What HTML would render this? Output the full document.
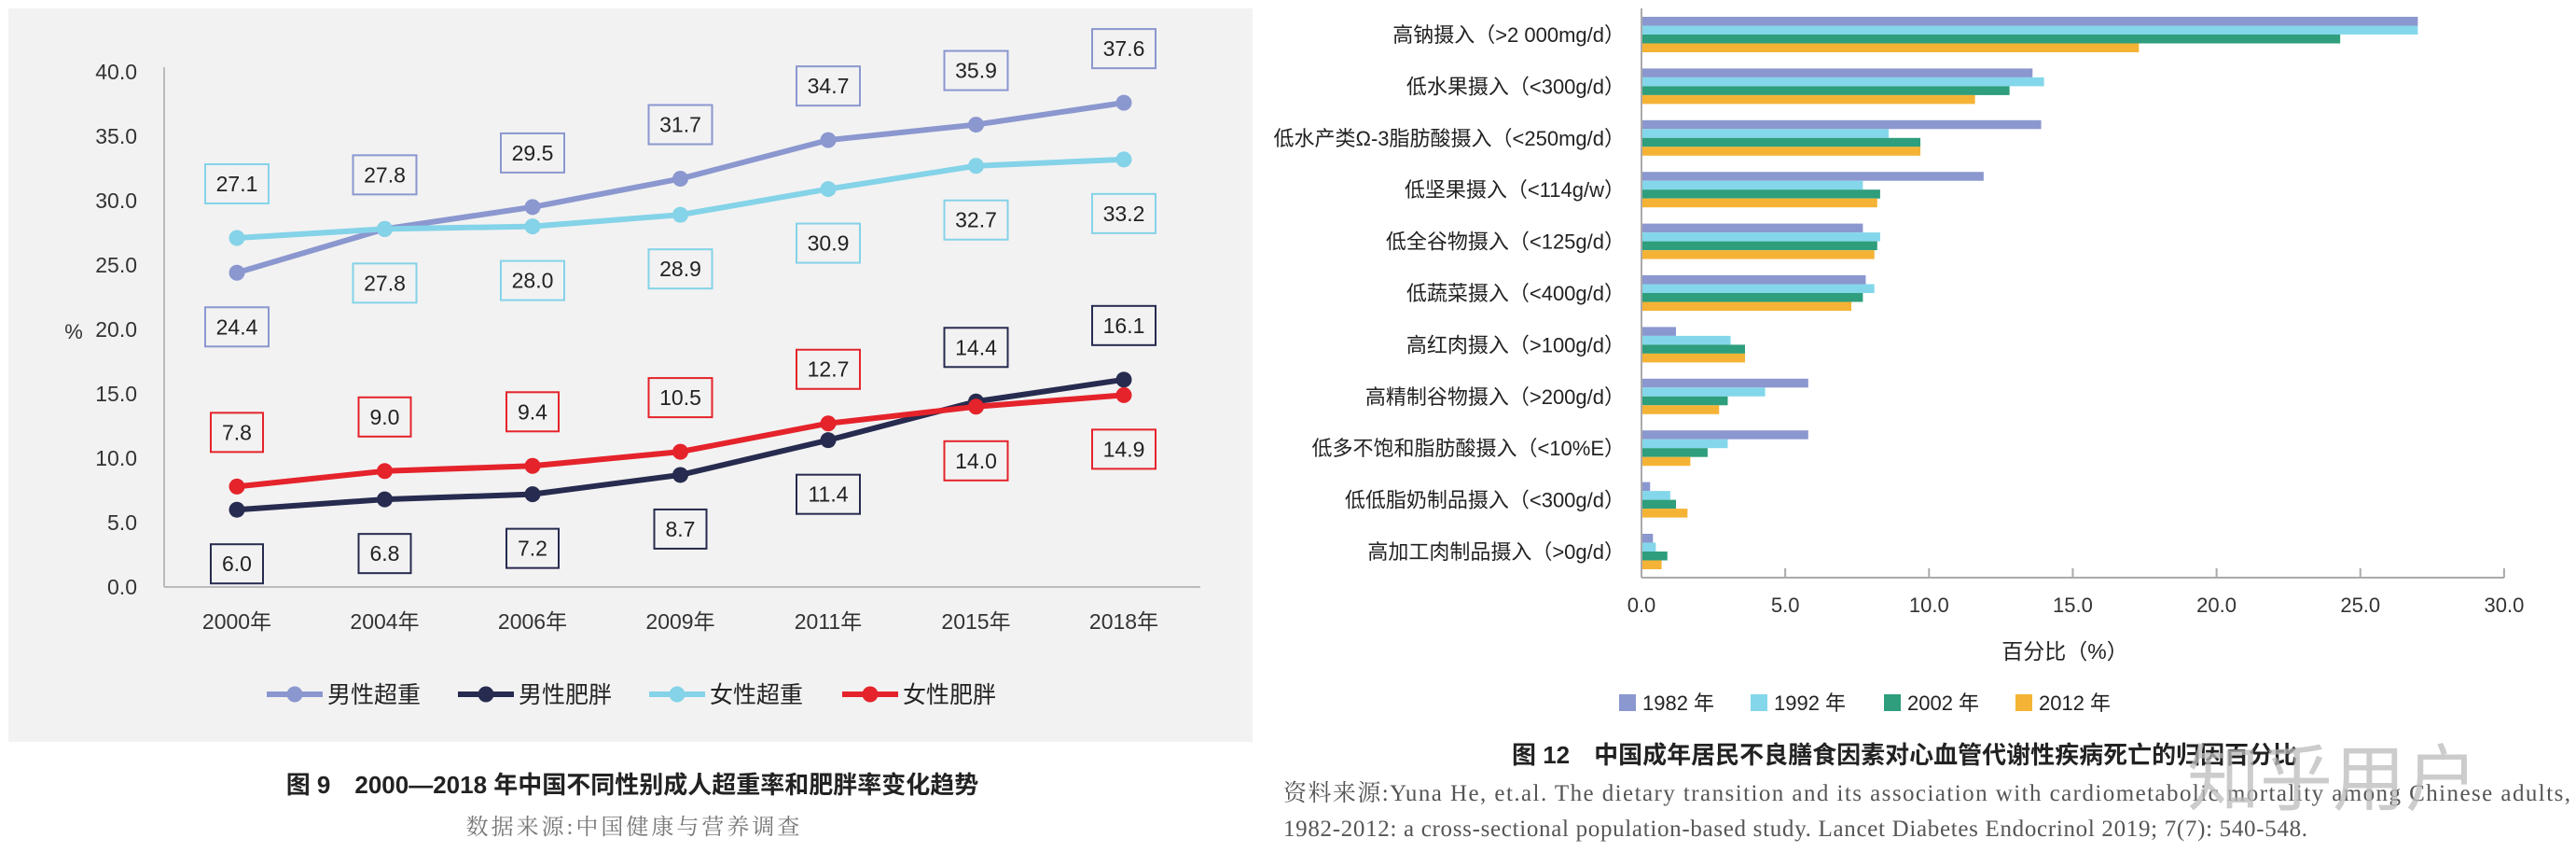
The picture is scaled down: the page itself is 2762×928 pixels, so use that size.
<!DOCTYPE html>
<html><head><meta charset="utf-8"><style>
html,body{margin:0;padding:0;background:#fff;width:2762px;height:928px;overflow:hidden}
svg text{font-family:"Liberation Sans","Noto Sans CJK SC",sans-serif}
</style></head><body>
<svg id="root" width="2762" height="928" viewBox="0 0 2762 928" xmlns="http://www.w3.org/2000/svg">
<rect x="9" y="9" width="1334" height="786" fill="#f2f2f2"/>
<g id="left"></g>
<g id="right"></g>
<text x="678" y="850" text-anchor="middle" font-size="26" font-weight="bold" fill="#222">图 9　2000—2018 年中国不同性别成人超重率和肥胖率变化趋势</text>
<text x="680" y="894" text-anchor="middle" font-size="24" fill="#777" style="font-family:'Liberation Serif','Noto Serif CJK SC',serif;letter-spacing:3px">数据来源:中国健康与营养调查</text>
<text x="1621" y="818" font-size="26" font-weight="bold" fill="#222">图 12　中国成年居民不良膳食因素对心血管代谢性疾病死亡的归因百分比</text>
<text x="1376" y="858" font-size="25" fill="#555" style="font-family:'Liberation Serif','Noto Serif CJK SC',serif" textLength="1380">资料来源:Yuna He, et.al. The dietary transition and its association with cardiometabolic mortality among Chinese adults,</text>
<text x="1376" y="896" font-size="25" fill="#555" style="font-family:'Liberation Serif','Noto Serif CJK SC',serif" textLength="1098">1982-2012: a cross-sectional population-based study. Lancet Diabetes Endocrinol 2019; 7(7): 540-548.</text>
<text x="2345" y="862" font-size="78" fill="#bbb" opacity="0.75">知乎用户</text>
</svg>
<script>
// ---------- Line chart data ----------
const years = ["2000年","2004年","2006年","2009年","2011年","2015年","2018年"];
const maleOverweight = [24.4,27.8,29.5,31.7,34.7,35.9,37.6];
const maleObese = [6.0,6.8,7.2,8.7,11.4,14.4,16.1];
const femaleOverweight = [27.1,27.8,28.0,28.9,30.9,32.7,33.2];
const femaleObese = [7.8,9.0,9.4,10.5,12.7,14.0,14.9];
const seriesNames = ["男性超重","男性肥胖","女性超重","女性肥胖"];
const yTicks = [0,5,10,15,20,25,30,35,40];
const maleOverweightSide = [1,-1,-1,-1,-1,-1,-1];
const maleObeseSide = [1,1,1,1,1,-1,-1];
const femaleOverweightSide = [-1,1,1,1,1,1,1];
const femaleObeseSide = [-1,-1,-1,-1,-1,1,1];

// ---------- Bar chart data ----------
const factors = ["高钠摄入（>2 000mg/d）","低水果摄入（<300g/d）","低水产类Ω-3脂肪酸摄入（<250mg/d）","低坚果摄入（<114g/w）","低全谷物摄入（<125g/d）","低蔬菜摄入（<400g/d）","高红肉摄入（>100g/d）","高精制谷物摄入（>200g/d）","低多不饱和脂肪酸摄入（<10%E）","低低脂奶制品摄入（<300g/d）","高加工肉制品摄入（>0g/d）"];
const yearLabels = ["1982 年","1992 年","2002 年","2012 年"];
const v1982 = [27.0,13.6,13.9,11.9,7.7,7.8,1.2,5.8,5.8,0.3,0.4];
const v1992 = [27.0,14.0,8.6,7.7,8.3,8.1,3.1,4.3,3.0,1.0,0.5];
const v2002 = [24.3,12.8,9.7,8.3,8.2,7.7,3.6,3.0,2.3,1.2,0.9];
const v2012 = [17.3,11.6,9.7,8.2,8.1,7.3,3.6,2.7,1.7,1.6,0.7];
const xTicks = [0,5,10,15,20,25,30];

const NS="http://www.w3.org/2000/svg";
function mk(parent,tag,attrs,text){const e=document.createElementNS(NS,tag);for(const k in attrs)e.setAttribute(k,attrs[k]);if(text!==undefined)e.textContent=text;parent.appendChild(e);return e;}

// Line chart
(function(){
const g=document.getElementById('left');
const X=i=>254+i*158.5;
const Y=v=>629-v*13.8;
let e=mk(g,'line',{x1:176,y1:72,x2:176,y2:629,stroke:'#bbb','stroke-width':2});


e=mk(g,'line',{x1:176,y1:629,x2:1287,y2:629,stroke:'#bbb','stroke-width':2});


yTicks.forEach(t=>{const tx=mk(g,'text',{x:147,y:Y(t)+8,'text-anchor':'end','font-size':23,fill:'#333'},t.toFixed(1));

});
e=mk(g,'text',{x:79,y:363,'text-anchor':'middle','font-size':22,fill:'#333'},'%');


years.forEach((y,i)=>{const tx=mk(g,'text',{x:X(i),y:674,'text-anchor':'middle','font-size':23,fill:'#333'},y);

});
const series=[[maleOverweight,'#8b97cf',maleOverweightSide],[maleObese,'#272b4f',maleObeseSide],[femaleOverweight,'#84d3e8',femaleOverweightSide],[femaleObese,'#e5232b',femaleObeseSide]];
series.forEach(([vals,col,side],si)=>{
  const sg=mk(g,'g',{});
  
  
  const pl=mk(sg,'polyline',{points:vals.map((v,i)=>X(i)+','+Y(v)).join(' '),fill:'none',stroke:col,'stroke-width':6,'stroke-linejoin':'round'});
  
  
  vals.forEach((v,i)=>{
    const c=mk(sg,'circle',{cx:X(i),cy:Y(v),r:8.5,fill:col});
    
    
  });
});
series.forEach(([vals,col,side],si)=>{
  vals.forEach((v,i)=>{
    const s=v.toFixed(1); const w=s.length>3?68:56;
    const cy=Y(v)+side[i]*58;
    const lg=mk(g,'g',{});
    
    
    mk(lg,'rect',{x:X(i)-w/2,y:cy-21,width:w,height:42,fill:'#f2f2f2',stroke:col,'stroke-width':2});
    mk(lg,'text',{x:X(i),y:cy+8,'text-anchor':'middle','font-size':23,fill:'#222'},s);
  });
});
const lx=[286,491,696,903];
[series[0],series[1],series[2],series[3]].forEach(([v,col],k)=>{
  const lg=mk(g,'g',{});
  
  
  mk(lg,'line',{x1:lx[k],y1:744,x2:lx[k]+60,y2:744,stroke:col,'stroke-width':6});
  mk(lg,'circle',{cx:lx[k]+30,cy:744,r:8.5,fill:col});
  mk(lg,'text',{x:lx[k]+65,y:753,'font-size':25,fill:'#222'},seriesNames[k]);
});
})();

// Bar chart
(function(){
const g=document.getElementById('right');
const X0=1760, unit=30.83;
const X=v=>X0+v*unit;
const band=55.4, top=9.3, barH=9.5;
const cols=['#8b97cf','#84d7ea','#2e9e7c','#f5b335'];
const sets=[v1982,v1992,v2002,v2012];
factors.forEach((f,i)=>{
  const cy=top+band*(i+0.5);
  const t=mk(g,'text',{x:1742,y:cy+8,'text-anchor':'end','font-size':22,fill:'#222'},f);
  
  
  sets.forEach((s,k)=>{
    const r=mk(g,'rect',{x:X0,y:cy-2*barH+k*barH,width:X(s[i])-X0,height:barH,fill:cols[k]});
    
    
  });
});
let e=mk(g,'line',{x1:X0,y1:9,x2:X0,y2:619,stroke:'#aaa','stroke-width':2});


e=mk(g,'line',{x1:X0,y1:619,x2:X(30),y2:619,stroke:'#aaa','stroke-width':2});


xTicks.forEach(t=>{
  const tk=mk(g,'line',{x1:X(t),y1:609,x2:X(t),y2:619,stroke:'#aaa','stroke-width':2});
  
  
  const tx=mk(g,'text',{x:X(t),y:656,'text-anchor':'middle','font-size':22,fill:'#333'},t.toFixed(1));
  
  
});
e=mk(g,'text',{x:2214,y:706,'text-anchor':'middle','font-size':23,fill:'#222'},'百分比（%）');


const lx=[1736,1877,2020,2161];
yearLabels.forEach((y,k)=>{
  const lg=mk(g,'g',{});
  
  
  mk(lg,'rect',{x:lx[k],y:744,width:18,height:18,fill:cols[k]});
  mk(lg,'text',{x:lx[k]+25,y:761,'font-size':22,fill:'#222'},y);
});
})();
</script>
</body></html>
